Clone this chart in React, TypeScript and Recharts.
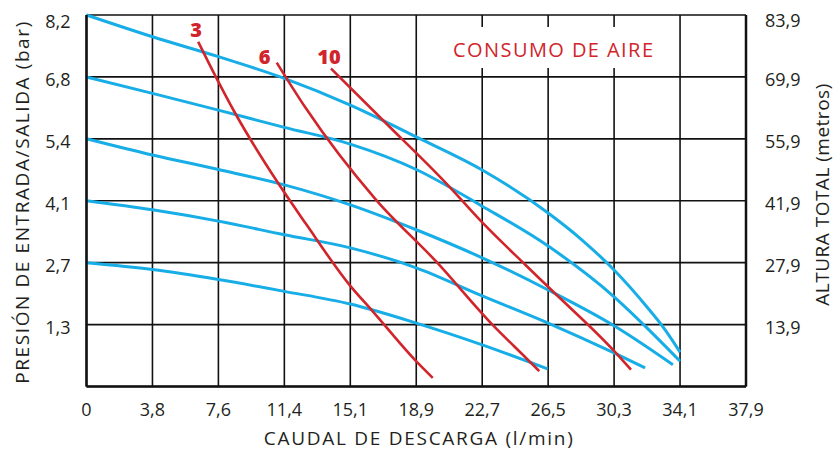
import React from 'react';
import { LineChart, Line, XAxis, YAxis, CartesianGrid, LabelList } from 'recharts';

// caudal (l/min) ticks and their printed labels
const xTicks = [0, 3.79, 7.58, 11.37, 15.16, 18.95, 22.74, 26.53, 30.32, 34.11, 37.9];
const xTickLabels = ['0', '3,8', '7,6', '11,4', '15,1', '18,9', '22,7', '26,5', '30,3', '34,1', '37,9'];

// presion (bar) ticks, left labels in bar, right labels in metros
const yTicks = [0, 1.3667, 2.7333, 4.1, 5.4667, 6.8333, 8.2];
const barLabels = ['', '1,3', '2,7', '4,1', '5,4', '6,8', '8,2'];
const meterLabels = ['', '13,9', '27,9', '41,9', '55,9', '69,9', '83,9'];

// pump curves, one per inlet pressure  [caudal, presion]
const curve82 = [[0, 8.2], [3.79, 7.72], [7.58, 7.28], [11.37, 6.8], [15.16, 6.21], [18.95, 5.51], [22.74, 4.78], [26.53, 3.83], [28.43, 3.25], [30.32, 2.57], [32.22, 1.75], [33.16, 1.3], [34.11, 0.76]];
const curve68 = [[0, 6.83], [3.79, 6.47], [7.58, 6.1], [11.37, 5.72], [15.16, 5.35], [18.95, 4.79], [22.74, 3.98], [26.53, 3.1], [30.32, 1.98], [32.22, 1.29], [34.11, 0.56]];
const curve54 = [[0, 5.47], [3.79, 5.11], [7.58, 4.79], [11.37, 4.45], [15.16, 4.01], [18.95, 3.46], [22.74, 2.84], [26.53, 2.13], [30.32, 1.34], [33.7, 0.48]];
const curve41 = [[0, 4.1], [3.79, 3.9], [7.58, 3.65], [11.37, 3.35], [15.16, 3.06], [18.95, 2.62], [22.74, 2.0], [26.53, 1.4], [30.32, 0.74], [32.1, 0.41]];
const curve27 = [[0, 2.73], [3.79, 2.58], [7.58, 2.36], [11.37, 2.1], [15.16, 1.82], [18.95, 1.4], [22.74, 0.92], [26.5, 0.39]];

// air consumption lines
const air3 = [[6.42, 7.61], [7.44, 6.83], [8.49, 6.07], [11.01, 4.49], [12.61, 3.59], [15.1, 2.25], [16.45, 1.66], [18.94, 0.56], [19.9, 0.19]];
const air6 = [[10.93, 7.15], [12.61, 6.14], [16.64, 4.12], [20.09, 2.76], [23.34, 1.36], [25.26, 0.63], [26.02, 0.34]];
const air10 = [[14.05, 7.02], [17.11, 5.85], [20.66, 4.49], [22.77, 3.61], [25.26, 2.67], [26.69, 2.14], [30.33, 0.78], [31.29, 0.37]];

const blueCurves = [curve82, curve68, curve54, curve41, curve27];
const airLines = [
  { name: '3', pts: air3, dx: -2, dy: -12 },
  { name: '6', pts: air6, dx: -12, dy: -6 },
  { name: '10', pts: air10, dx: -2, dy: -12 },
];

const BLUE = '#17ade6';
const RED = '#d1252c';
const INK = '#231f20';
const FONT = '"Open Sans", Lato, sans-serif';

const toRows = (pts: number[][]) => pts.map(([x, y]) => ({ x, y }));

function XTick(props: any) {
  const { x, y, index } = props;
  return (
    <text x={x} y={y + 20} textAnchor="middle" dominantBaseline="central" fill={INK} fontSize={18} fontFamily={FONT}>
      {xTickLabels[index]}
    </text>
  );
}

function LeftTick(props: any) {
  const { x, y, index } = props;
  const top = index === yTicks.length - 1;
  return (
    <text x={x - 14} y={y + (top ? 6 : 2)} textAnchor="end" dominantBaseline="central" fill={INK} fontSize={18} fontFamily={FONT}>
      {barLabels[index]}
    </text>
  );
}

function RightTick(props: any) {
  const { x, y, index } = props;
  const top = index === yTicks.length - 1;
  return (
    <text x={x + 17} y={y + (top ? 5 : 2)} textAnchor="start" dominantBaseline="central" fill={INK} fontSize={18} fontFamily={FONT}>
      {meterLabels[index]}
    </text>
  );
}

function AxisTitle({ x, y, len, rotate, children }: any) {
  return (
    <text
      x={x}
      y={y}
      transform={rotate ? `rotate(-90 ${x} ${y})` : undefined}
      textAnchor="middle"
      dominantBaseline="central"
      fill={INK}
      fontSize={19}
      fontFamily={FONT}
      textLength={len}
      lengthAdjust="spacing"
    >
      {children}
    </text>
  );
}

const border = { stroke: '#111', strokeWidth: 2.5 };

export default function App() {
  return (
    <div style={{ position: 'absolute', left: 0, top: 0, width: 839, height: 450, background: '#fff' }}>
      <LineChart width={839} height={450} margin={{ top: 15, right: 20, bottom: 20, left: 16 }}>
        <CartesianGrid xAxisId="b" yAxisId="l" stroke="#111" strokeWidth={1.6} />
        <XAxis
          xAxisId="b"
          dataKey="x"
          type="number"
          domain={[0, 37.9]}
          ticks={xTicks}
          interval={0}
          tick={<XTick />}
          tickLine={false}
          tickSize={0}
          height={43.5}
          axisLine={border}
          label={{
            content: (p: any) => (
              <AxisTitle x={p.viewBox.x + p.viewBox.width / 2 + 2} y={p.viewBox.y + 51} len={309}>
                CAUDAL DE DESCARGA (l/min)
              </AxisTitle>
            ),
          }}
        />
        <XAxis xAxisId="t" orientation="top" type="number" domain={[0, 37.9]} tick={false} tickLine={false} height={0} axisLine={border} />
        <YAxis
          yAxisId="l"
          type="number"
          domain={[0, 8.2]}
          ticks={yTicks}
          interval={0}
          tick={<LeftTick />}
          tickLine={false}
          tickSize={0}
          width={70.5}
          axisLine={border}
          label={{
            content: (p: any) => (
              <AxisTitle rotate x={p.viewBox.x + 6} y={p.viewBox.y + p.viewBox.height / 2 + 2} len={362}>
                PRESIÓN DE ENTRADA/SALIDA (bar)
              </AxisTitle>
            ),
          }}
        />
        <YAxis
          yAxisId="r"
          orientation="right"
          type="number"
          domain={[0, 8.2]}
          ticks={yTicks}
          interval={0}
          tick={<RightTick />}
          tickLine={false}
          tickSize={0}
          width={73}
          axisLine={border}
          label={{
            content: (p: any) => (
              <AxisTitle rotate x={p.viewBox.x + 76} y={p.viewBox.y + p.viewBox.height / 2 - 6} len={222}>
                ALTURA TOTAL (metros)
              </AxisTitle>
            ),
          }}
        />
        {blueCurves.map((c, i) => (
          <Line
            key={'b' + i}
            xAxisId="b"
            yAxisId="r"
            data={toRows(c)}
            dataKey="y"
            type="monotone"
            stroke={BLUE}
            strokeWidth={3}
            dot={false}
            activeDot={false}
            isAnimationActive={false}
          />
        ))}
        {airLines.map((a) => (
          <Line
            key={'r' + a.name}
            xAxisId="b"
            yAxisId="l"
            data={toRows(a.pts)}
            dataKey="y"
            type="monotone"
            stroke={RED}
            strokeWidth={2.6}
            dot={false}
            activeDot={false}
            isAnimationActive={false}
          >
            <LabelList
              dataKey="y"
              content={(p: any) =>
                p.index === 0 ? (
                  <text x={p.x + a.dx} y={p.y + a.dy} textAnchor="middle" dominantBaseline="central" fill={RED} fontSize={20} fontWeight={800} fontFamily={FONT}>
                    {a.name}
                  </text>
                ) : null
              }
            />
          </Line>
        ))}
      </LineChart>
      <svg width={206} height={41} style={{ position: 'absolute', left: 450, top: 27 }}>
        <rect x={0} y={0} width={206} height={41} fill="#fff" />
        <text x={103} y={22} textAnchor="middle" dominantBaseline="central" fill={RED} fontSize={20} fontFamily={FONT} textLength={200} lengthAdjust="spacing">
          CONSUMO DE AIRE
        </text>
      </svg>
    </div>
  );
}
